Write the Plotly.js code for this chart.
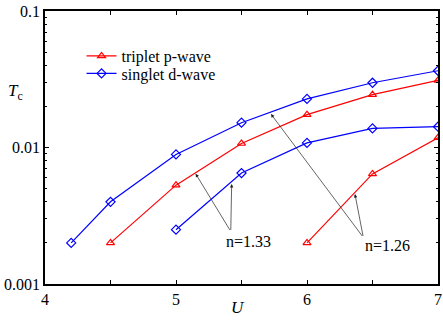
<!DOCTYPE html>
<html>
<head>
<meta charset="utf-8">
<script src="https://cdn.plot.ly/plotly-3.0.1.min.js"></script>
<style>body{margin:0}#tcPlot{width:443px;height:321px}</style>
</head>
<body>
<div id="tcPlot"></div>
<script>
// Tc vs U
var uTriplet133 = [4.5, 5, 5.5, 6, 6.5, 7];
var tcTriplet133 = [0.002, 0.0053, 0.0107, 0.0174, 0.0244, 0.031];
var uSinglet133 = [5, 5.5, 6, 6.5, 7];
var tcSinglet133 = [0.0025, 0.0065, 0.0108, 0.0138, 0.0142];
var uTriplet126 = [6, 6.5, 7];
var tcTriplet126 = [0.002, 0.0064, 0.0118];
var uSinglet126 = [4.2, 4.5, 5, 5.5, 6, 6.5, 7];
var tcSinglet126 = [0.002, 0.004, 0.0089, 0.0152, 0.0227, 0.0298, 0.0365];

var xTicks = [4, 5, 6, 7];
var yTicks = [0.001, 0.01, 0.1];
var yLabels = ['0.001', '0.01', '0.1'];

var red = '#ff0000';
var blue = '#0000ff';
var serif = 'Liberation Serif';

var minorY = [];
[0.001, 0.01].forEach(function (d) {
    for (var k = 2; k <= 9; k++) minorY.push(k * d);
});

function curve(x, y, name, color, symbol, leg) {
    var t = {
        x: x, y: y, name: name, showlegend: !!leg,
        mode: 'lines+markers', type: 'scatter',
        line: {color: color, width: 1.2},
        marker: {symbol: symbol, size: 7, color: color, line: {color: color, width: 1.2}}
    };
    if (leg) t.legend = leg;
    return t;
}

var data = [
    curve(uTriplet133, tcTriplet133, 'triplet p-wave', red, 'triangle-up-open', 'legend'),
    curve(uSinglet126, tcSinglet126, 'singlet d-wave', blue, 'diamond-open', 'legend2'),
    curve(uSinglet133, tcSinglet133, 'singlet d-wave', blue, 'diamond-open', null),
    curve(uTriplet126, tcTriplet126, 'triplet p-wave', red, 'triangle-up-open', null)
];

function arrow(x, y, ax, ay) {
    return {
        x: x, y: y, ax: ax, ay: ay, xref: 'x', yref: 'y', axref: 'x', ayref: 'y',
        text: '', showarrow: true, arrowhead: 2, arrowsize: 1, arrowwidth: 0.7, arrowcolor: '#222'
    };
}

function legendBox(y) {
    return {
        x: 0.093, y: y, xanchor: 'left', yanchor: 'middle',
        bgcolor: 'rgba(0,0,0,0)', font: {family: serif, size: 16}
    };
}

function label(x, y, ref, text, size) {
    return {
        x: x, y: y, xref: ref[0], yref: ref[1], text: text, showarrow: false,
        xanchor: 'center', yanchor: 'middle', font: {family: serif, size: size}
    };
}

var layout = {
    width: 443, height: 321,
    margin: {l: 45, r: 5, t: 11, b: 37},
    paper_bgcolor: 'white', plot_bgcolor: 'white',
    font: {family: serif, size: 16, color: 'black'},
    xaxis: {
        range: [4, 7], tickvals: xTicks,
        ticks: 'inside', ticklen: 4, tickwidth: 1, tickcolor: 'black',
        minor: {dtick: 0.5, ticks: 'inside', ticklen: 4, tickcolor: 'black', showgrid: false},
        showline: true, linewidth: 1.5, linecolor: 'black', mirror: 'allticks',
        showgrid: false, zeroline: false,
        tickfont: {family: serif, size: 16}
    },
    yaxis: {
        type: 'log', range: [-3, -1], tickvals: yTicks, ticktext: yLabels,
        ticks: 'inside', ticklen: 4, tickwidth: 1, tickcolor: 'black',
        minor: {tickvals: minorY, ticks: 'inside', ticklen: 2, tickcolor: 'black', showgrid: false},
        showline: true, linewidth: 1.5, linecolor: 'black', mirror: 'allticks',
        showgrid: false, zeroline: false,
        tickfont: {family: serif, size: 16}
    },
    legend: legendBox(0.835),
    legend2: legendBox(0.771),
    annotations: [
        label(-0.076, 0.704, ['paper', 'paper'], '<i>T</i><sub>c</sub>', 17),
        label(0.491, -0.087, ['paper', 'paper'], '<i>U</i>', 17),
        label(5.55, -2.688, ['x', 'y'], 'n=1.33', 16),
        label(6.618, -2.719, ['x', 'y'], 'n=1.26', 16),
        arrow(5.150, -2.192, 5.418, -2.615),
        arrow(5.425, -2.267, 5.418, -2.615),
        arrow(6.366, -2.341, 6.43, -2.659),
        arrow(5.725, -1.755, 6.43, -2.659)
    ]
};

Plotly.newPlot('tcPlot', data, layout, {displayModeBar: false});
</script>
</body>
</html>
